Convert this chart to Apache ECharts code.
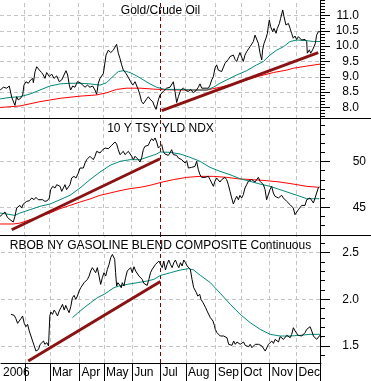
<!DOCTYPE html>
<html><head><meta charset="utf-8">
<script src="https://cdn.jsdelivr.net/npm/echarts@6/dist/echarts.min.js"></script>
<style>html,body{margin:0;padding:0;background:#fff}#c{width:371px;height:381px}</style>
</head><body><div id="c"></div>
<script>
// x = trading-day index in 2006 (0 = first trading day of January)
const monthStarts = [0,20,39,62,81,103,125,145,168,188,210,231];
const monthLabels = ['2006','','Mar','Apr','May','Jun','Jul','Aug','Sep','Oct','Nov','Dec'];
const markerDay = 125; // start of July (dashed marker)

const titles = ['Gold/Crude Oil','10 Y TSY YLD NDX','RBOB NY GASOLINE BLEND COMPOSITE Continuous'];

const goldTicks = [8.0,8.5,9.0,9.5,10.0,10.5,11.0];
const tsyTicks = [45,50];
const rbobTicks = [1.5,2.0,2.5];

const goldCrude = [[1,8.57],[3.5,8.66],[6.1,8.63],[8.1,8.70],[10,8.33],[11.2,8.27],[12.5,8.07],[13.8,8.35],[15.1,8.25],[16.9,8.30],[18.5,8.41],[19.5,8.73],[21.1,8.84],[22.9,8.79],[24.7,8.90],[26.3,8.95],[26.8,8.81],[28.1,9.17],[29.4,9.33],[31.4,9.22],[33.2,9.14],[34.5,9.06],[35.8,8.95],[37.1,9.14],[39.2,9.01],[41,9.09],[42.8,8.95],[44.9,9.03],[46.9,8.84],[48.8,8.90],[50.1,8.84],[52.1,9.20],[53.4,9.06],[54.7,8.73],[55.7,8.57],[57.3,8.70],[59.1,8.66],[60.9,8.84],[63,8.81],[65.1,8.73],[66.9,8.66],[68.7,8.73],[70.7,8.66],[72.8,8.70],[74.6,8.57],[75.9,8.43],[77.2,8.79],[78.5,8.95],[79.8,8.90],[81.1,9.11],[83.2,9.71],[85,9.87],[86.8,9.79],[88.8,9.87],[90.1,9.93],[91.4,10.06],[92.7,9.77],[94,9.60],[95.3,9.39],[96.6,9.22],[98.7,9.11],[100.5,8.98],[102.3,8.84],[103.9,8.73],[105.7,8.84],[107,8.79],[108.3,8.57],[109.5,8.41],[110.8,8.19],[112.1,8.12],[114.2,8.25],[116,8.35],[117.8,8.25],[119.4,8.19],[120.4,8.08],[122,7.94],[123.8,8.25],[125.1,8.41],[128.2,8.55],[130.2,8.63],[132.8,8.66],[135.4,8.84],[136.7,8.52],[138,8.16],[139.3,8.35],[141.1,8.57],[143.2,8.63],[145.2,8.55],[147.1,8.52],[148.9,8.59],[150.9,8.48],[153,8.55],[154.8,8.66],[156.1,8.77],[157.4,8.63],[158.7,8.57],[160.8,8.63],[162.6,8.63],[163.9,8.73],[165.2,8.90],[166.5,9.01],[167.7,9.28],[169,9.39],[170.3,9.22],[171.6,9.28],[172.9,9.17],[174.2,9.22],[175.5,9.44],[176.8,9.50],[178.1,9.57],[179.4,9.66],[180.7,9.60],[182,9.71],[183.3,9.57],[184.6,9.50],[185.9,9.66],[187.1,9.79],[188.4,9.82],[189.7,9.50],[191,9.71],[192.3,9.82],[193.6,9.87],[194.9,9.98],[196.2,10.04],[197.5,10.15],[198.8,10.36],[200.1,10.42],[201.4,10.09],[202.7,9.77],[204,9.55],[204.7,9.88],[205.8,10.09],[207.3,10.26],[208.4,10.42],[209.1,10.64],[209.9,10.85],[210.9,10.64],[212.5,10.47],[213.5,10.58],[215.1,10.42],[216.1,10.58],[217.7,10.74],[218.7,10.91],[220.3,11.18],[221.3,10.96],[222.8,10.69],[224.7,10.74],[226,10.58],[227.2,10.42],[228.5,10.26],[229.8,10.33],[231.1,10.22],[232.4,10.31],[233.7,10.26],[235,10.20],[236.3,10.26],[237.6,10.22],[238.9,10.15],[239.4,9.77],[241,9.88],[242,9.77],[243.5,9.88],[244.6,9.93],[245.6,10.09],[246.6,10.36],[247.9,10.47],[249.2,10.42],[250,10.47]];
const goldMaFast = [[1,8.28],[8.7,8.33],[16.4,8.35],[24.2,8.44],[31.9,8.57],[39.7,8.70],[47.5,8.77],[55.2,8.79],[63,8.79],[70.7,8.77],[78.5,8.73],[83.7,8.81],[88.9,9.03],[92.7,9.17],[96.6,9.20],[101.8,9.14],[107,9.03],[112.1,8.90],[117.3,8.77],[122.5,8.66],[128.9,8.59],[132.8,8.59],[140.6,8.59],[150.9,8.57],[161.3,8.57],[166.5,8.66],[171.6,8.79],[176.8,8.90],[184.6,9.06],[192.3,9.20],[200.1,9.39],[205.3,9.50],[210.4,9.71],[215.6,9.87],[220.8,9.98],[226,10.15],[231.1,10.20],[238.9,10.18],[244.1,10.15],[250,10.15]];
const goldMaSlow = [[1,8.00],[16.4,8.05],[31.9,8.19],[47.5,8.30],[63,8.37],[75.9,8.41],[83.7,8.48],[91.4,8.59],[99.2,8.63],[109.5,8.63],[119.9,8.60],[128.9,8.58],[140.6,8.57],[161.3,8.57],[171.6,8.66],[182,8.77],[192.3,8.90],[202.7,9.03],[213,9.14],[223.4,9.22],[228.5,9.28],[238.9,9.35],[250,9.42]];
const goldTrend = [[126.4,7.90],[247.9,9.79]];

const tsyYield = [[0.9,44.01],[3,44.27],[4.8,44.49],[6.6,43.91],[8.7,43.65],[10,43.83],[11.2,43.40],[12.5,44.01],[13.8,44.92],[15.1,45.11],[16.4,45.21],[17.7,44.92],[19,45.36],[20.3,45.47],[21.6,45.65],[23.7,45.72],[25.5,46.02],[27.3,45.83],[28.8,46.09],[30.6,45.83],[31.9,45.65],[34,45.83],[35.8,45.65],[37.6,45.72],[39.2,46.02],[40.2,46.93],[41.8,47.29],[43.6,47.11],[44.9,47.47],[46.2,47.65],[47.5,47.29],[48.8,46.74],[50.1,47.11],[51.3,47.47],[52.6,46.93],[53.9,46.82],[55.2,47.47],[56.5,48.20],[58.3,48.38],[59.9,48.20],[61.7,48.74],[63,49.29],[64.3,49.47],[65.6,49.29],[66.9,49.84],[68.2,50.20],[69.5,50.02],[70.7,50.57],[72,50.38],[73.3,50.20],[74.6,50.57],[75.9,51.11],[77.2,51.29],[78.5,50.93],[79.8,51.18],[81.1,51.29],[82.4,51.47],[83.7,51.55],[85,51.40],[86.3,51.55],[87.6,51.77],[88.9,51.91],[90.1,52.13],[91.4,51.91],[92.7,51.29],[94,50.75],[95.3,50.82],[96.6,51.11],[97.9,50.75],[99.2,50.93],[100.5,51.11],[101.8,51.29],[103.1,50.57],[104.4,50.20],[105.7,50.57],[107,50.38],[108.3,50.20],[109.5,49.95],[110.8,50.38],[112.1,51.29],[113.4,51.66],[114.7,51.84],[116,51.77],[117.3,52.20],[118.6,52.49],[119.9,52.27],[121.2,52.57],[122.5,52.13],[123.8,51.47],[125.1,51.66],[126.4,51.84],[127.6,51.11],[128.9,50.82],[130.2,50.93],[131.5,50.67],[132.8,50.93],[134.1,51.29],[135.4,50.75],[136.7,50.57],[138,50.67],[139.3,50.38],[140.6,50.57],[141.9,50.20],[143.2,50.02],[144.5,49.84],[145.8,50.09],[147.1,49.29],[148.3,49.11],[149.6,49.36],[150.9,49.29],[152.2,49.47],[153.5,50.02],[154.8,49.11],[156.1,48.56],[157.4,48.27],[158.7,48.38],[160,48.27],[161.3,48.20],[162.6,48.38],[163.9,48.02],[165.2,47.65],[166.5,47.29],[167.7,47.84],[169,48.20],[170.3,48.02],[171.6,47.76],[172.9,48.02],[174.2,47.84],[175.5,48.27],[176.8,48.02],[178.1,47.47],[179.4,46.74],[180.7,46.02],[182,45.36],[183.3,45.83],[184.6,46.20],[185.9,45.83],[187.1,46.31],[188.4,46.02],[189.7,46.38],[191,47.11],[192.3,47.47],[193.6,47.84],[194.9,47.65],[196.2,48.02],[197.5,48.20],[198.8,47.76],[200.1,48.02],[201.4,48.27],[202.7,47.84],[204,48.02],[205.3,47.47],[206.6,46.93],[207.8,45.83],[209.1,45.65],[210.4,46.93],[211.7,47.29],[213,46.56],[214.3,46.20],[215.6,46.38],[216.9,46.02],[218.2,45.83],[219.5,46.31],[220.8,46.02],[222.1,45.83],[223.4,45.65],[224.7,45.47],[226,45.29],[227.2,45.11],[228.5,44.92],[229.8,44.20],[231.1,44.38],[232.4,44.74],[233.7,44.92],[235,45.21],[236.3,45.36],[237.6,45.21],[238.9,45.83],[240.2,45.72],[241.5,46.02],[242.8,45.83],[244.1,45.47],[245.4,46.02],[246.6,46.56],[247.9,47.11],[248.7,47.25]];
const tsyMaFast = [[0.9,44.38],[6.1,44.27],[12.5,44.12],[16.4,44.38],[24.2,44.74],[31.9,45.11],[39.7,45.36],[47.5,45.83],[55.2,46.31],[63,47.11],[70.7,48.02],[78.5,48.85],[86.3,49.58],[94,50.02],[101.8,50.20],[109.5,50.20],[117.3,50.57],[122.5,50.82],[125.1,51.04],[132.8,51.0],[140.6,50.82],[148.3,50.46],[156.1,50.02],[163.9,49.36],[171.6,48.93],[179.4,48.56],[187.1,48.13],[194.9,47.84],[202.7,47.54],[210.4,47.29],[218.2,46.93],[226,46.56],[233.7,46.20],[238.9,45.94],[244.1,45.94],[248.7,45.94]];
const tsyMaSlow = [[0.9,43.18],[11.2,43.18],[16.4,43.28],[24.2,43.65],[31.9,44.01],[39.7,44.38],[47.5,44.85],[55.2,45.21],[63,45.58],[70.7,45.91],[78.5,46.31],[86.3,46.56],[94,46.82],[101.8,47.04],[109.5,47.18],[117.3,47.40],[125.1,47.70],[135.4,48.02],[145.8,48.27],[156.1,48.38],[166.5,48.38],[176.8,48.27],[187.1,48.09],[197.5,48.02],[207.8,47.91],[218.2,47.76],[228.5,47.54],[238.9,47.29],[248.7,47.18]];
const tsyTrend = [[10,42.55],[125.1,50.3]];

const rbob = [[8.7,1.839],[10,1.821],[11.2,1.828],[12.5,1.793],[13.8,1.743],[15.1,1.768],[16.4,1.793],[17.7,1.821],[19,1.743],[20.3,1.707],[21.6,1.732],[22.9,1.661],[24.2,1.607],[25.5,1.553],[26.8,1.500],[28.1,1.446],[29.4,1.429],[30.1,1.464],[31.4,1.518],[32.5,1.500],[34,1.553],[35,1.518],[36.6,1.536],[37.9,1.500],[38.9,1.821],[39.7,1.864],[41,1.839],[42.3,1.885],[43.6,1.857],[44.9,1.821],[46.2,1.875],[47.5,1.910],[48.8,1.946],[50.1,1.885],[51.3,1.935],[52.6,1.893],[53.9,1.857],[55.2,1.921],[56.5,2.017],[57.8,2.042],[59.1,1.999],[60.4,2.035],[61.7,2.089],[63,2.125],[64.3,2.142],[65.6,2.178],[66.9,2.196],[68.2,2.214],[69.5,2.249],[70.7,2.303],[72,2.339],[73.3,2.357],[74.6,2.285],[75.9,2.339],[77.2,2.249],[78.5,2.160],[79.8,2.232],[81.1,2.285],[82.4,2.249],[83.7,2.321],[85,2.374],[86.3,2.446],[87.6,2.481],[88.3,2.492],[89.4,2.428],[90.1,2.285],[90.9,2.142],[91.9,2.178],[93.5,2.149],[94.5,2.124],[95.3,2.178],[96.6,2.142],[97.9,2.232],[99.2,2.303],[100.5,2.285],[101.8,2.339],[103.1,2.285],[104.4,2.349],[105.7,2.303],[107,2.321],[108.3,2.249],[109.5,2.267],[110.8,2.214],[112.1,2.171],[113.4,2.178],[114.7,2.149],[116,2.214],[117.3,2.285],[118.6,2.321],[119.9,2.339],[121.2,2.374],[122.5,2.392],[123.8,2.410],[125.1,2.392],[126.4,2.339],[127.6,2.410],[128.9,2.314],[130.2,2.374],[131.5,2.421],[132.8,2.374],[134.1,2.339],[135.4,2.392],[136.7,2.421],[138,2.374],[139.3,2.339],[140.6,2.392],[141.9,2.357],[143.2,2.421],[144.5,2.392],[145.8,2.357],[147.1,2.339],[148.3,2.321],[149.6,2.214],[150.9,2.125],[151.7,2.142],[153,2.071],[154,2.035],[155.6,2.053],[156.6,1.999],[158.2,1.964],[159.2,1.982],[160.2,1.910],[161.3,1.875],[162.6,1.857],[163.9,1.803],[165.2,1.821],[165.9,1.768],[167,1.721],[167.7,1.678],[169,1.643],[170.3,1.650],[171.6,1.607],[172.9,1.614],[174.2,1.607],[175.5,1.625],[176.8,1.589],[178.1,1.518],[179.4,1.536],[180.7,1.507],[182,1.553],[183.3,1.518],[184.6,1.543],[185.9,1.536],[187.1,1.518],[188.4,1.500],[189.7,1.543],[191,1.507],[192.3,1.528],[193.6,1.493],[194.9,1.518],[196.2,1.482],[197.5,1.500],[198.8,1.518],[200.1,1.500],[201.4,1.518],[202.7,1.528],[204,1.500],[205.3,1.518],[206.6,1.446],[207.8,1.464],[209.1,1.518],[210.4,1.536],[211.7,1.553],[213,1.528],[214.3,1.571],[215.6,1.578],[216.9,1.543],[218.2,1.600],[219.5,1.607],[220.8,1.571],[222.1,1.589],[223.4,1.614],[224.7,1.600],[226,1.589],[227.2,1.625],[228.5,1.696],[229.8,1.661],[231.1,1.636],[232.4,1.614],[233.7,1.600],[235,1.607],[236.3,1.614],[237.6,1.643],[238.9,1.678],[240.2,1.696],[241.5,1.707],[242.8,1.661],[244.1,1.607],[245.4,1.625],[246.6,1.571],[247.9,1.589],[249.2,1.614],[250,1.589]];
const rbobMa = [[56.5,1.803],[60.4,1.850],[65.6,1.910],[70.7,1.964],[75.9,2.017],[81.1,2.053],[88.9,2.125],[92.7,2.142],[99.2,2.160],[107,2.178],[114.7,2.196],[119.9,2.214],[125.1,2.256],[132.8,2.285],[140.6,2.314],[147,2.328],[150.9,2.314],[156.1,2.256],[163.9,2.178],[171.6,2.064],[179.4,1.946],[187.1,1.839],[194.9,1.750],[202.7,1.678],[210.4,1.625],[218.2,1.607],[226,1.607],[233.7,1.614],[241.5,1.625],[250,1.625]];
const rbobTrend = [[22.1,1.339],[125,2.19]];

const FONT = 'Liberation Sans, Arial, sans-serif';
const X_MIN = 0.9, X_MAX = 250;
const panels = [
  {top:0, height:119, min:7.625, max:11.505, ticks:goldTicks, minorStep:0.1, dec:1, lblMargin:38},
  {top:119, height:117, min:41.87, max:54.64, ticks:tsyTicks, minorStep:1, dec:0, lblMargin:45},
  {top:236, height:127, min:1.318, max:2.678, ticks:rbobTicks, minorStep:0.1, dec:1, lblMargin:38}
];
function minorTicks(p){
  const out=[]; const s=p.minorStep;
  for(let v=Math.ceil(p.min/s)*s; v<=p.max+1e-9; v+=s) out.push(+v.toFixed(3));
  return out;
}
const gridColor = '#c4c4c4';
const grids=[], xAxes=[], yAxes=[], series=[];
const labelPos = monthStarts.map((m,i)=> i===0 ? X_MIN : m);
panels.forEach((p,gi)=>{
  grids.push({left:0, width:321, top:p.top, height:p.height});
  const isBottom = gi===2;
  xAxes.push({type:'value', gridIndex:gi, min:X_MIN, max:X_MAX, splitLine:{show:false},
    axisLine:{show:isBottom, onZero:false, lineStyle:{color:'#000',width:1}},
    axisTick:{show:isBottom, length:18, customValues:monthStarts.slice(1), lineStyle:{color:'#000'}},
    axisLabel:{show:isBottom, customValues:labelPos.filter((v,i)=>monthLabels[i]!==''),
      formatter:v=>{const i=labelPos.indexOf(v); return i>=0?monthLabels[i]:'';},
      align:'left', margin:4, padding:[0,0,0,2], fontSize:12, color:'#000', fontFamily:FONT}
  });
  yAxes.push({type:'value', gridIndex:gi, position:'right', min:p.min, max:p.max, splitLine:{show:false},
    axisLine:{show:false, onZero:false},
    axisTick:{show:true, length:9, customValues:p.ticks, lineStyle:{color:'#000'}},
    axisLabel:{customValues:p.ticks, formatter:v=>v.toFixed(p.dec), margin:p.lblMargin, align:'right',
      fontSize:12, color:'#000', fontFamily:FONT}});
  yAxes.push({type:'value', gridIndex:gi, position:'right', min:p.min, max:p.max, splitLine:{show:false},
    axisLine:{show:false, onZero:false},
    axisTick:{show:true, length:4, customValues:minorTicks(p), lineStyle:{color:'#000'}},
    axisLabel:{show:false}});
});
function gridLines(ticks){
  const d=[];
  ticks.forEach(v=>d.push({yAxis:v}));
  monthStarts.slice(1).forEach(m=>{ if(m!==markerDay) d.push({xAxis:m}); });
  return {silent:true, symbol:['none','none'], z:1, animation:false, label:{show:false},
    lineStyle:{color:gridColor, type:[4,3], width:1}, emphasis:{disabled:true}, data:d};
}
function markerLine(){
  return {silent:true, symbol:['none','none'], z:1, animation:false, label:{show:false},
    lineStyle:{color:'#800000', type:[4,3], width:1}, emphasis:{disabled:true}, data:[{xAxis:markerDay}]};
}
function line(gi, data, color, width, extra){
  return Object.assign({type:'line', xAxisIndex:gi, yAxisIndex:gi*2, data, showSymbol:false, symbol:'none',
    animation:false, silent:true, lineStyle:{color, width}, z:2}, extra||{});
}
series.push(line(0, goldMaSlow, '#ff0000', 1, {markLine:gridLines(goldTicks)}));
series.push(line(0, goldMaFast, '#00897b', 1));
series.push(line(0, goldCrude, '#000000', 1));
series.push(line(0, goldTrend, '#8b1212', 3, {markLine:markerLine(), z:3}));
series.push(line(1, tsyMaSlow, '#ff0000', 1, {markLine:gridLines(tsyTicks)}));
series.push(line(1, tsyMaFast, '#00897b', 1));
series.push(line(1, tsyYield, '#000000', 1));
series.push(line(1, tsyTrend, '#8b1212', 3, {markLine:markerLine(), z:3}));
series.push(line(2, rbobMa, '#00897b', 1, {markLine:gridLines(rbobTicks)}));
series.push(line(2, rbob, '#000000', 1));
series.push(line(2, rbobTrend, '#8b1212', 3, {markLine:markerLine(), z:3}));

const titleY = [11, 129, 246];
const graphic = [
  {type:'line', shape:{x1:0,y1:118.5,x2:371,y2:118.5}, style:{stroke:'#000',lineWidth:1}, z:10, silent:true},
  {type:'line', shape:{x1:0,y1:235.5,x2:371,y2:235.5}, style:{stroke:'#000',lineWidth:1}, z:10, silent:true},
  {type:'line', shape:{x1:320.5,y1:0,x2:320.5,y2:381}, style:{stroke:'#000',lineWidth:1}, z:10, silent:true}
];
titles.forEach((t,i)=>graphic.push({type:'text', x:160.5, y:titleY[i], z:10, silent:true,
  style:{text:t, textAlign:'center', textVerticalAlign:'middle', verticalAlign:'middle', fill:'#000', font:'12px '+FONT}}));

const chart = echarts.init(document.getElementById('c'), null, {renderer:'canvas'});
chart.setOption({animation:false, backgroundColor:'#fff', grid:grids, xAxis:xAxes, yAxis:yAxes, series, graphic});
</script></body></html>
